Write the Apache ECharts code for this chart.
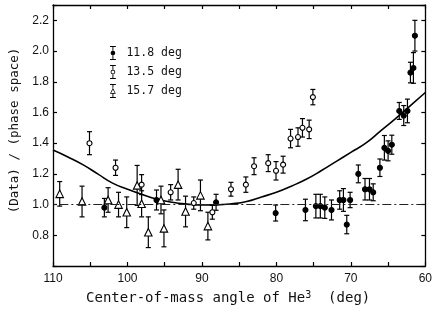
<!DOCTYPE html>
<html><head><meta charset="utf-8">
<script src="https://cdn.jsdelivr.net/npm/echarts@6/dist/echarts.min.js"></script>
<style>html,body{margin:0;padding:0;background:#fff}#c{width:435px;height:312px}</style>
</head><body><div id="c"></div>
<script>
const seriesNames = ['11.8 deg', '13.5 deg', '15.7 deg'];
const xTickLabels = [110, 100, 90, 80, 70, 60];
const yTickLabels = [0.8, 1.0, 1.2, 1.4, 1.6, 1.8, 2.0, 2.2];
// [angle, ratio, error]
const data118 = [
  [103.1, 0.98, 0.06], [96.1, 1.03, 0.065], [88.1, 1.015, 0.052], [80.1, 0.945, 0.052],
  [76.1, 0.965, 0.07], [74.7, 0.99, 0.077], [74.1, 0.99, 0.077], [73.5, 0.98, 0.07],
  [72.6, 0.965, 0.065], [71.5, 1.03, 0.06], [71.0, 1.03, 0.074], [70.55, 0.87, 0.06],
  [70.1, 1.03, 0.05], [69.0, 1.20, 0.058], [68.1, 1.10, 0.07], [67.5, 1.10, 0.07],
  [67.0, 1.08, 0.055], [66.1, 1.24, 0.057], [65.5, 1.37, 0.08], [65.0, 1.35, 0.065],
  [64.5, 1.39, 0.062], [63.5, 1.61, 0.055], [62.9, 1.58, 0.065], [62.4, 1.61, 0.077],
  [62.0, 1.86, 0.067], [61.6, 1.89, 0.10], [61.4, 2.10, 0.10]
];
const data135 = [
  [105.1, 1.40, 0.075], [101.6, 1.24, 0.05], [98.1, 1.13, 0.065], [94.2, 1.08, 0.05],
  [91.1, 1.01, 0.04], [88.6, 0.95, 0.045], [86.1, 1.10, 0.045], [84.1, 1.13, 0.05],
  [83.0, 1.25, 0.055], [81.1, 1.27, 0.055], [80.05, 1.22, 0.06], [79.1, 1.26, 0.055],
  [78.1, 1.43, 0.06], [77.1, 1.44, 0.06], [76.5, 1.50, 0.06], [75.6, 1.49, 0.06],
  [75.1, 1.70, 0.05]
];
const data157 = [
  [109.1, 1.07, 0.08], [106.1, 1.02, 0.10], [102.6, 1.03, 0.08], [101.2, 1.00, 0.08],
  [100.1, 0.95, 0.10], [98.7, 1.125, 0.13], [98.1, 1.005, 0.085], [97.2, 0.82, 0.10],
  [95.5, 1.03, 0.09], [95.1, 0.845, 0.12], [93.2, 1.13, 0.10], [92.2, 0.955, 0.10],
  [90.2, 1.06, 0.10], [89.2, 0.86, 0.09]
];
const curveX = [110, 108, 106, 104, 102, 100, 98, 96, 94, 92, 90, 88, 86, 84, 82, 80, 78, 76, 74, 72, 70, 68, 66, 64, 62, 60];
const curveY = [1.355, 1.31, 1.26, 1.20, 1.14, 1.10, 1.065, 1.035, 1.015, 1.003, 0.997, 0.998, 1.005, 1.02, 1.05, 1.08, 1.12, 1.165, 1.22, 1.28, 1.34, 1.40, 1.48, 1.56, 1.645, 1.73];
const unityLevel = 1.0;

const FONT = 'DejaVu Sans Mono';
const caps = 'M1 0H11V1.6H1ZM1 22.4H11V24H1Z';
const iconFilled = 'path://' + caps + 'M5.2 1.6H6.8V22.4H5.2ZM2 12A4 4 0 1 1 10 12A4 4 0 1 1 2 12Z';
const iconOpen = 'path://' + caps + 'M5.2 1.6H6.8V8H5.2ZM5.2 16H6.8V22.4H5.2Z' +
  'M2 12A4 4 0 1 1 10 12A4 4 0 1 1 2 12ZM3.4 12A2.6 2.6 0 1 0 8.6 12A2.6 2.6 0 1 0 3.4 12Z';
const iconTri = 'path://' + caps + 'M5.2 1.6H6.8V6.5H5.2ZM5.2 16.5H6.8V22.4H5.2Z' +
  'M6 6.5L11 16.5L1 16.5ZM6 9.3L2.9 15.3L9.1 15.3Z';

function errRender(params, api) {
  const x = api.value(0), y = api.value(1), e = api.value(2);
  const t = api.coord([x, y + e]), b = api.coord([x, y - e]);
  const w = 2.5;
  const st = { stroke: '#000', lineWidth: 1.2, fill: null };
  return { type: 'group', children: [
    { type: 'line', shape: { x1: t[0], y1: t[1], x2: b[0], y2: b[1] }, style: st },
    { type: 'line', shape: { x1: t[0] - w, y1: t[1], x2: t[0] + w, y2: t[1] }, style: st },
    { type: 'line', shape: { x1: b[0] - w, y1: b[1], x2: b[0] + w, y2: b[1] }, style: st }
  ] };
}
function errSeries(d) {
  return { type: 'custom', renderItem: errRender, data: d, encode: { x: 0, y: 1 }, z: 2, silent: true };
}
function ptSeries(name, d, symbol, size, fill) {
  return { type: 'scatter', name: name, data: d.map(p => [p[0], p[1]]), symbol: symbol, symbolSize: size,
    itemStyle: { color: fill, borderColor: '#000', borderWidth: 1.1, opacity: 1 }, z: 3, silent: true };
}

const axisLineStyle = { color: '#000', width: 1.3 };
const xBase = {
  type: 'value', inverse: true, min: 60, max: 110, interval: 5,
  axisLine: { show: true, lineStyle: axisLineStyle, onZero: false },
  axisTick: { show: true, inside: true, length: 4, lineStyle: { color: '#000', width: 1.2 } },
  splitLine: { show: false }
};
const yBase = {
  type: 'value', min: 0.6, max: 2.3, interval: 0.2,
  axisLine: { show: true, lineStyle: axisLineStyle, onZero: false },
  axisTick: { show: true, inside: true, length: 4, lineStyle: { color: '#000', width: 1.2 } },
  splitLine: { show: false }
};

const chart = echarts.init(document.getElementById('c'));
chart.setOption({
  animation: false,
  backgroundColor: '#fff',
  grid: { left: 53, right: 3, top: 5, bottom: 46 },
  legend: {
    orient: 'vertical', left: 105, top: 41, itemWidth: 7, itemHeight: 14, itemGap: 5,
    textStyle: { fontFamily: FONT, fontSize: 11.5, color: '#111', padding: [0, 0, 0, 5] },
    data: [
      { name: seriesNames[0], icon: iconFilled, itemStyle: { color: '#000', borderWidth: 0 } },
      { name: seriesNames[1], icon: iconOpen, itemStyle: { color: '#000', borderWidth: 0 } },
      { name: seriesNames[2], icon: iconTri, itemStyle: { color: '#000', borderWidth: 0 } }
    ],
    selectedMode: false
  },
  xAxis: [
    Object.assign({}, xBase, {
      position: 'bottom',
      axisLabel: { show: true, margin: 7, showMinLabel: true, showMaxLabel: true, fontFamily: 'Liberation Sans', fontSize: 12, color: '#111',
        formatter: v => xTickLabels.some(t => Math.abs(t - v) < 1e-6) ? String(v) : '' },
      name: '{t|Center-of-mass angle of He}{s|3}{t|  (deg)}',
      nameLocation: 'middle', nameGap: 24,
      nameTextStyle: { padding: [0, 22, 0, 0], rich: {
        t: { fontFamily: FONT, fontSize: 14, color: '#111' },
        s: { fontFamily: FONT, fontSize: 10, color: '#111', verticalAlign: 'top', padding: [0, 0, 6, 0] } } }
    }),
    Object.assign({}, xBase, { position: 'top', axisLabel: { show: false } })
  ],
  yAxis: [
    Object.assign({}, yBase, {
      position: 'left',
      axisLabel: { show: true, margin: 4, fontFamily: 'Liberation Sans', fontSize: 12, color: '#111',
        formatter: v => { const m = yTickLabels.find(t => Math.abs(t - v) < 1e-6); return m !== undefined ? m.toFixed(1) : ''; } },
      name: '(Data) / (phase space)', nameLocation: 'middle', nameGap: 30,
      nameTextStyle: { fontFamily: FONT, fontSize: 12.5, color: '#111', padding: [0, 0, 0, 10] }
    }),
    Object.assign({}, yBase, { position: 'right', axisLabel: { show: false } })
  ],
  series: [
    { type: 'line', name: 'curve', data: curveX.map((x, i) => [x, curveY[i]]), smooth: true, symbol: 'none',
      lineStyle: { color: '#000', width: 1.6 }, z: 1, silent: true,
      markLine: { silent: true, symbol: ['none', 'none'], label: { show: false },
        lineStyle: { color: '#222', width: 1, type: [9, 3, 2, 3] }, data: [{ yAxis: unityLevel }] } },
    errSeries(data118), errSeries(data135), errSeries(data157),
    ptSeries(seriesNames[0], data118, 'circle', 5, '#000'),
    ptSeries(seriesNames[1], data135, 'circle', 5, '#fff'),
    ptSeries(seriesNames[2], data157, 'triangle', 7.5, '#fff')
  ]
});
</script></body></html>
